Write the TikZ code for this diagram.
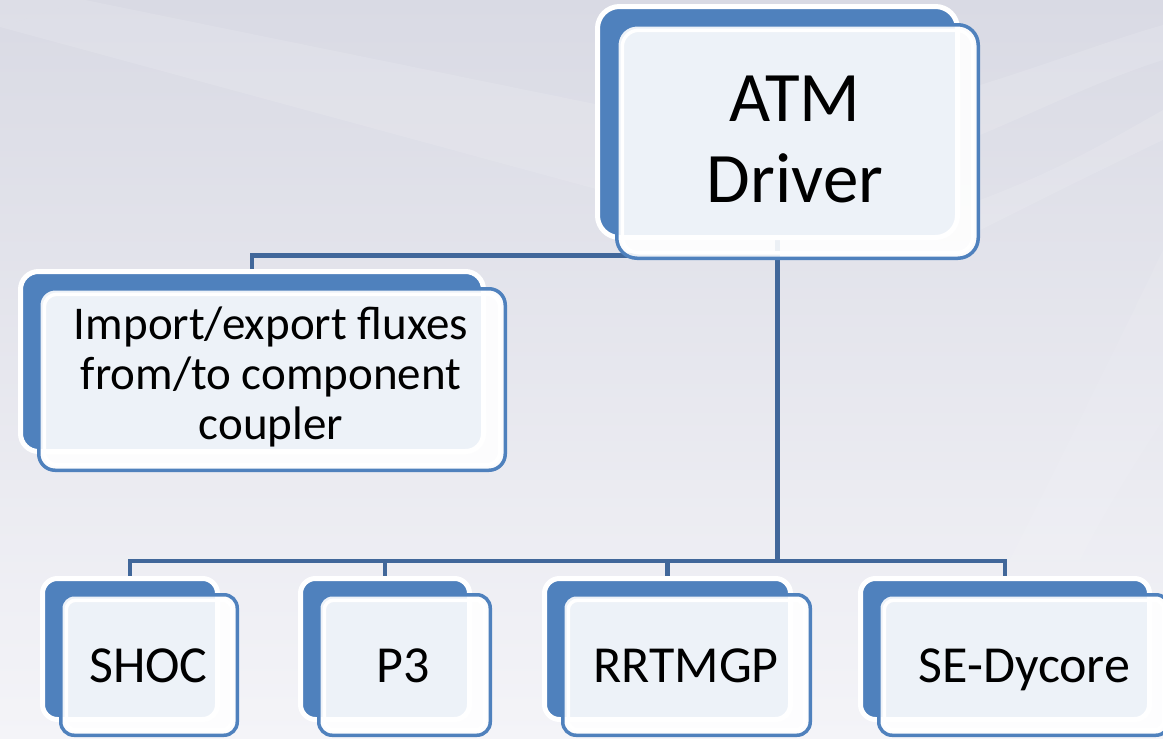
\documentclass[tikz,border=0pt]{standalone}
\usepackage{fontspec}
\setmainfont{Carlito}
\definecolor{boxblue}{HTML}{4F81BD}
\definecolor{linkblue}{HTML}{41679A}
\definecolor{bgtop}{HTML}{D9DAE4}
\definecolor{bgbot}{HTML}{F4F4F8}
\pgfdeclarelayer{backdrop}
\pgfdeclarelayer{links}
\pgfsetlayers{backdrop,links,main}

% back panel: #1 name, #2..#5 visible blue extents (x1,y1,x2,y2), #6 corner radius
\newcommand\backpanel[6]{%
  \pgfmathsetmacro\pw{#4-#2+5}\pgfmathsetmacro\ph{#5-#3+5}%
  \pgfmathsetmacro\px{(#2+#4)/2}\pgfmathsetmacro\py{(#3+#5)/2}%
  \node[backbox, minimum width=\pw pt, minimum height=\ph pt,
        rounded corners=#6pt] (#1-back) at (\px,\py) {};}
% front panel: #1 name, #2..#5 outer extents of the blue rim, #6 corner radius
\newcommand\frontpanel[6]{%
  \pgfmathsetmacro\pw{#4-#2-3.5}\pgfmathsetmacro\ph{#5-#3-3.5}%
  \pgfmathsetmacro\px{(#2+#4)/2}\pgfmathsetmacro\py{(#3+#5)/2}%
  \pgfmathsetmacro\pr{#6-1.75}\pgfmathsetmacro\ir{#6-5.5}%
  \node[frontbox, minimum width=\pw pt, minimum height=\ph pt,
        rounded corners=\pr pt] (#1-front) at (\px,\py) {};
  \draw[white, line width=3.5pt, rounded corners=\ir pt]
    ([shift={(5.5pt,5.5pt)}]#1-front.south west) rectangle
    ([shift={(-5.5pt,-5.5pt)}]#1-front.north east);}

\tikzset{
  backbox/.style={rectangle, draw=white, line width=5pt, fill=boxblue,
                  inner sep=0pt, outer sep=0pt},
  frontbox/.style={rectangle, draw=boxblue, line width=3.5pt, fill=white,
                   fill opacity=0.9, inner sep=0pt, outer sep=0pt},
  link/.style={draw=linkblue, line width=4.5pt},
  lbl/.style={inner sep=0pt, align=center, text=black},
  band/.style={fill=white, opacity=0.12},
}

\begin{document}
\begin{tikzpicture}[x=1pt, y=-1pt]
\useasboundingbox (0,0) rectangle (1163,739);
\clip (0,0) rectangle (1163,739);

% backdrop with faint light streaks
\begin{pgfonlayer}{backdrop}
\shade[top color=bgtop, bottom color=bgbot] (0,0) rectangle (1163,739);
\fill[band] (0,27) -- (85,0) -- (600,105) -- (600,190) -- cycle;
\fill[band] (0,0) -- (85,0) -- (0,27) -- cycle;
\fill[band] (980,85) .. controls (1060,60) and (1110,40) .. (1163,25)
  -- (1163,60) .. controls (1100,80) and (1040,110) .. (980,135) -- cycle;
\fill[band] (980,200) .. controls (1060,170) and (1110,140) .. (1163,110)
  -- (1163,140) .. controls (1100,170) and (1040,200) .. (980,230) -- cycle;
\fill[band, opacity=0.08] (1010,560) .. controls (1060,460) and (1110,360) .. (1163,250)
  -- (1163,420) .. controls (1130,470) and (1100,520) .. (1080,560) -- cycle;
\end{pgfonlayer}

% panels
\backpanel{atm}{600}{9}{955}{235}{22}
\frontpanel{atm}{615}{23}{980}{260}{22}
\backpanel{imp}{23}{274}{481}{449}{18}
\frontpanel{imp}{37}{287}{507}{472}{18}
\backpanel{shoc}{45}{581}{215}{717}{15}
\frontpanel{shoc}{59}{593}{239}{737}{15}
\backpanel{pthree}{303}{581}{467}{717}{15}
\frontpanel{pthree}{317}{593}{492}{737}{15}
\backpanel{rrtmgp}{547}{581}{788}{717}{15}
\frontpanel{rrtmgp}{561}{593}{812}{737}{15}
\backpanel{dycore}{863}{581}{1147}{717}{15}
\frontpanel{dycore}{877}{593}{1171}{737}{15}

% connectors, kept underneath the panels
\coordinate (split) at (777.5,255.5);
\coordinate (bus) at (777.5,561);
\begin{pgfonlayer}{links}
\draw[link] (atm-back.south) -- (bus);
\draw[link] (imp-back.north) |- (split);
\draw[link] (shoc-back.north) |- (bus);
\draw[link] (pthree-back.north) |- (bus);
\draw[link] (rrtmgp-back.north) |- (bus);
\draw[link] (dycore-back.north) |- (bus);
\end{pgfonlayer}

% labels
\node[lbl, font=\fontsize{71}{81}\selectfont] (atm) at (795,139) {ATM\\Driver};
\node[lbl, font=\fontsize{47}{50}\selectfont] (imp) at (271,377)
  {Import/export fluxes\\from/to component\\coupler};
\node[lbl, anchor=base, font=\fontsize{52}{60}\selectfont] (shoc) at (148.5,682) {SHOC};
\node[lbl, anchor=base, font=\fontsize{52}{60}\selectfont] (pthree) at (403,682) {P3};
\node[lbl, anchor=base, font=\fontsize{52}{60}\selectfont] (rrtmgp) at (686,682) {RRTMGP};
\node[lbl, anchor=base, font=\fontsize{52}{60}\selectfont] (dycore) at (1024.5,682) {SE-Dycore};
\end{tikzpicture}
\end{document}
